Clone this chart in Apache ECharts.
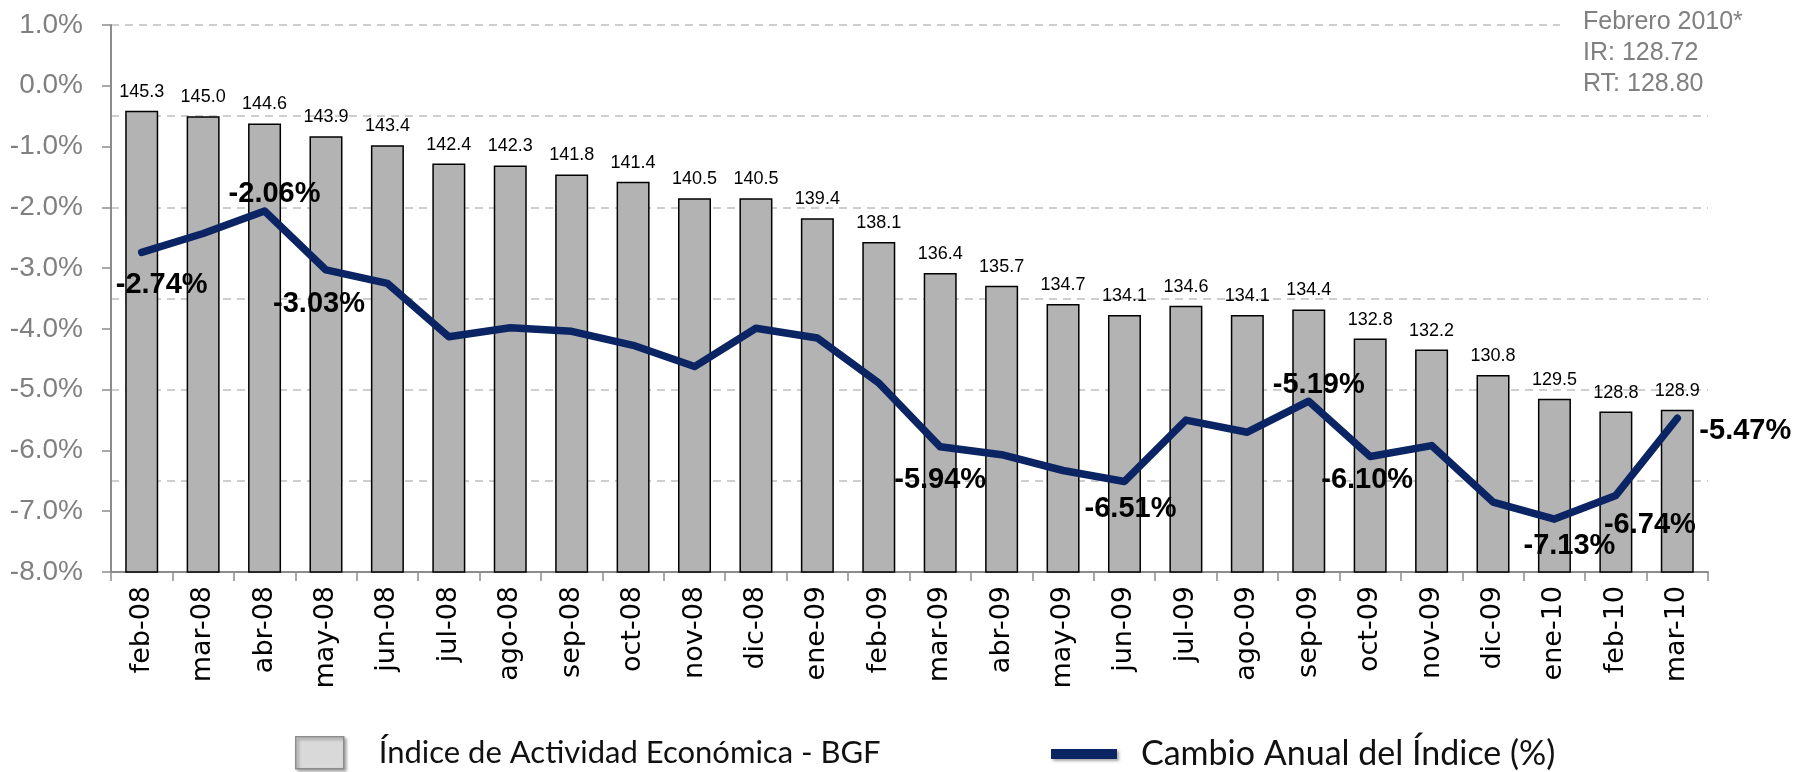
<!DOCTYPE html>
<html>
<head>
<meta charset="utf-8">
<script src="https://cdn.jsdelivr.net/npm/echarts@6/dist/echarts.min.js"></script>
<style>
  html, body { margin: 0; padding: 0; background: #fff; }
  #chart { width: 1795px; height: 772px; }
</style>
</head>
<body>
<div id="chart"></div>
<script>
// categorias (meses)
const months = ['feb-08', 'mar-08', 'abr-08', 'may-08', 'jun-08', 'jul-08', 'ago-08', 'sep-08', 'oct-08',
    'nov-08', 'dic-08', 'ene-09', 'feb-09', 'mar-09', 'abr-09', 'may-09', 'jun-09', 'jul-09', 'ago-09',
    'sep-09', 'oct-09', 'nov-09', 'dic-09', 'ene-10', 'feb-10', 'mar-10'];

// Indice de Actividad Economica - BGF (barras)
const indiceValues = [145.3, 145.0, 144.6, 143.9, 143.4, 142.4, 142.3, 141.8, 141.4, 140.5, 140.5, 139.4,
    138.1, 136.4, 135.7, 134.7, 134.1, 134.6, 134.1, 134.4, 132.8, 132.2, 130.8, 129.5, 128.8, 128.9];

// Cambio anual del indice (%) (linea)
const cambioValues = [-2.74, -2.43, -2.06, -3.03, -3.25, -4.13, -3.98, -4.04, -4.27, -4.62, -3.99, -4.15,
    -4.89, -5.94, -6.07, -6.33, -6.51, -5.50, -5.70, -5.19, -6.10, -5.92, -6.85, -7.13, -6.74, -5.47];

// ticks eje izquierdo
const pctMin = -8, pctMax = 1, pctStep = 1;
// eje secundario oculto para las barras
const idxMin = 120, idxMax = 150, idxStep = 5;

const notaLines = ['Febrero 2010*', 'IR: 128.72', 'RT: 128.80'];

// puntos de la linea con etiqueta -> desplazamiento del texto (px)
const labelOffsets = {
    0: [20, 33], 2: [10, -17], 3: [-7, 34], 13: [0, 33], 16: [6, 28],
    19: [10, -16], 20: [-3, 23], 23: [15, 27], 24: [34, 30], 25: [68, 13]
};

const lineData = cambioValues.map((v, i) => {
    const off = labelOffsets[i];
    if (!off) return v;
    return {
        value: v,
        label: {
            show: true,
            position: 'inside',
            offset: off,
            formatter: v.toFixed(2) + '%'
        }
    };
});

const chart = echarts.init(document.getElementById('chart'), null, { renderer: 'canvas' });

const legendFont = 'Lato, "Liberation Sans", sans-serif';

const option = {
    animation: false,
    backgroundColor: '#ffffff',
    grid: { left: 111, right: 87, top: 25, bottom: 200, containLabel: false },
    legend: [
        {
            left: 295, top: 736, padding: 0,
            itemWidth: 48, itemHeight: 32,
            data: [{
                name: 'Índice de Actividad Económica - BGF',
                icon: 'rect',
                itemStyle: {
                    color: '#d9d9d9', borderColor: '#8c8c8c', borderWidth: 1.5,
                    shadowColor: 'rgba(0,0,0,0.35)', shadowBlur: 3, shadowOffsetX: 2, shadowOffsetY: 2
                }
            }],
            textStyle: {
                fontFamily: legendFont,
                fontSize: 31, color: '#111', padding: [0, 0, 0, 30]
            }
        },
        {
            left: 1051, top: 734, padding: 0,
            itemWidth: 66, itemHeight: 10,
            data: [{
                name: 'Cambio Anual del Índice (%)',
                icon: 'rect',
                itemStyle: {
                    color: '#0b2463',
                    shadowColor: 'rgba(0,0,0,0.35)', shadowBlur: 3, shadowOffsetX: 2, shadowOffsetY: 2
                }
            }],
            textStyle: {
                fontFamily: legendFont,
                fontSize: 34, color: '#111', padding: [0, 0, 0, 19], lineHeight: 40
            }
        }
    ],
    xAxis: {
        type: 'category',
        data: months,
        boundaryGap: true,
        axisLine: { show: true, onZero: false, lineStyle: { color: '#8c8c8c', width: 2 } },
        axisTick: { show: true, alignWithLabel: false, length: 9, lineStyle: { color: '#8c8c8c', width: 1.5 } },
        axisLabel: {
            rotate: 90, margin: 14, interval: 0,
            fontFamily: '"DejaVu Sans", Verdana, sans-serif',
            fontSize: 27, color: '#000'
        },
        splitLine: { show: false }
    },
    yAxis: [
        {
            type: 'value',
            min: pctMin, max: pctMax, interval: pctStep,
            position: 'left',
            axisLine: { show: true, lineStyle: { color: '#8c8c8c', width: 2 } },
            axisTick: { show: true, length: 9, lineStyle: { color: '#8c8c8c', width: 1.5 } },
            axisLabel: {
                margin: 28,
                fontFamily: '"Liberation Sans", Arial, sans-serif',
                fontSize: 28, color: '#808080',
                formatter: v => v.toFixed(1) + '%'
            },
            splitLine: { show: false }
        },
        {
            type: 'value',
            min: idxMin, max: idxMax, interval: idxStep,
            position: 'right',
            axisLine: { show: false },
            axisTick: { show: false },
            axisLabel: { show: false },
            splitLine: { show: true, lineStyle: { color: '#bfbfbf', width: 1.5, type: [8, 6] } }
        }
    ],
    series: [
        {
            name: 'Índice de Actividad Económica - BGF',
            type: 'bar',
            yAxisIndex: 1,
            data: indiceValues,
            barWidth: 33,
            itemStyle: { color: '#b3b3b3', borderColor: '#000', borderWidth: 1.5 },
            label: {
                show: true, position: 'top', distance: 10,
                fontFamily: '"Liberation Sans", Arial, sans-serif',
                fontSize: 18, color: '#000',
                formatter: p => p.value.toFixed(1)
            },
            z: 2
        },
        {
            name: 'Cambio Anual del Índice (%)',
            type: 'line',
            yAxisIndex: 0,
            data: lineData,
            symbol: 'circle',
            symbolSize: 1,
            lineStyle: { color: '#0b2463', width: 7.5, cap: 'round', join: 'round' },
            itemStyle: { color: '#0b2463' },
            label: {
                show: false,
                fontFamily: '"Liberation Sans", Arial, sans-serif',
                fontWeight: 'bold', fontSize: 29, color: '#000'
            },
            z: 3
        }
    ],
    graphic: [
        {
            type: 'rect', z: 100,
            shape: { x: 1560, y: 10, width: 235, height: 30 },
            style: { fill: '#ffffff' }
        },
        {
            type: 'text', z: 101,
            left: 1583, top: 7,
            style: {
                text: notaLines.join('\n'),
                fontFamily: '"Liberation Sans", Arial, sans-serif',
                fontSize: 25, lineHeight: 31, fill: '#808080'
            }
        }
    ]
};

chart.setOption(option);
</script>
</body>
</html>
